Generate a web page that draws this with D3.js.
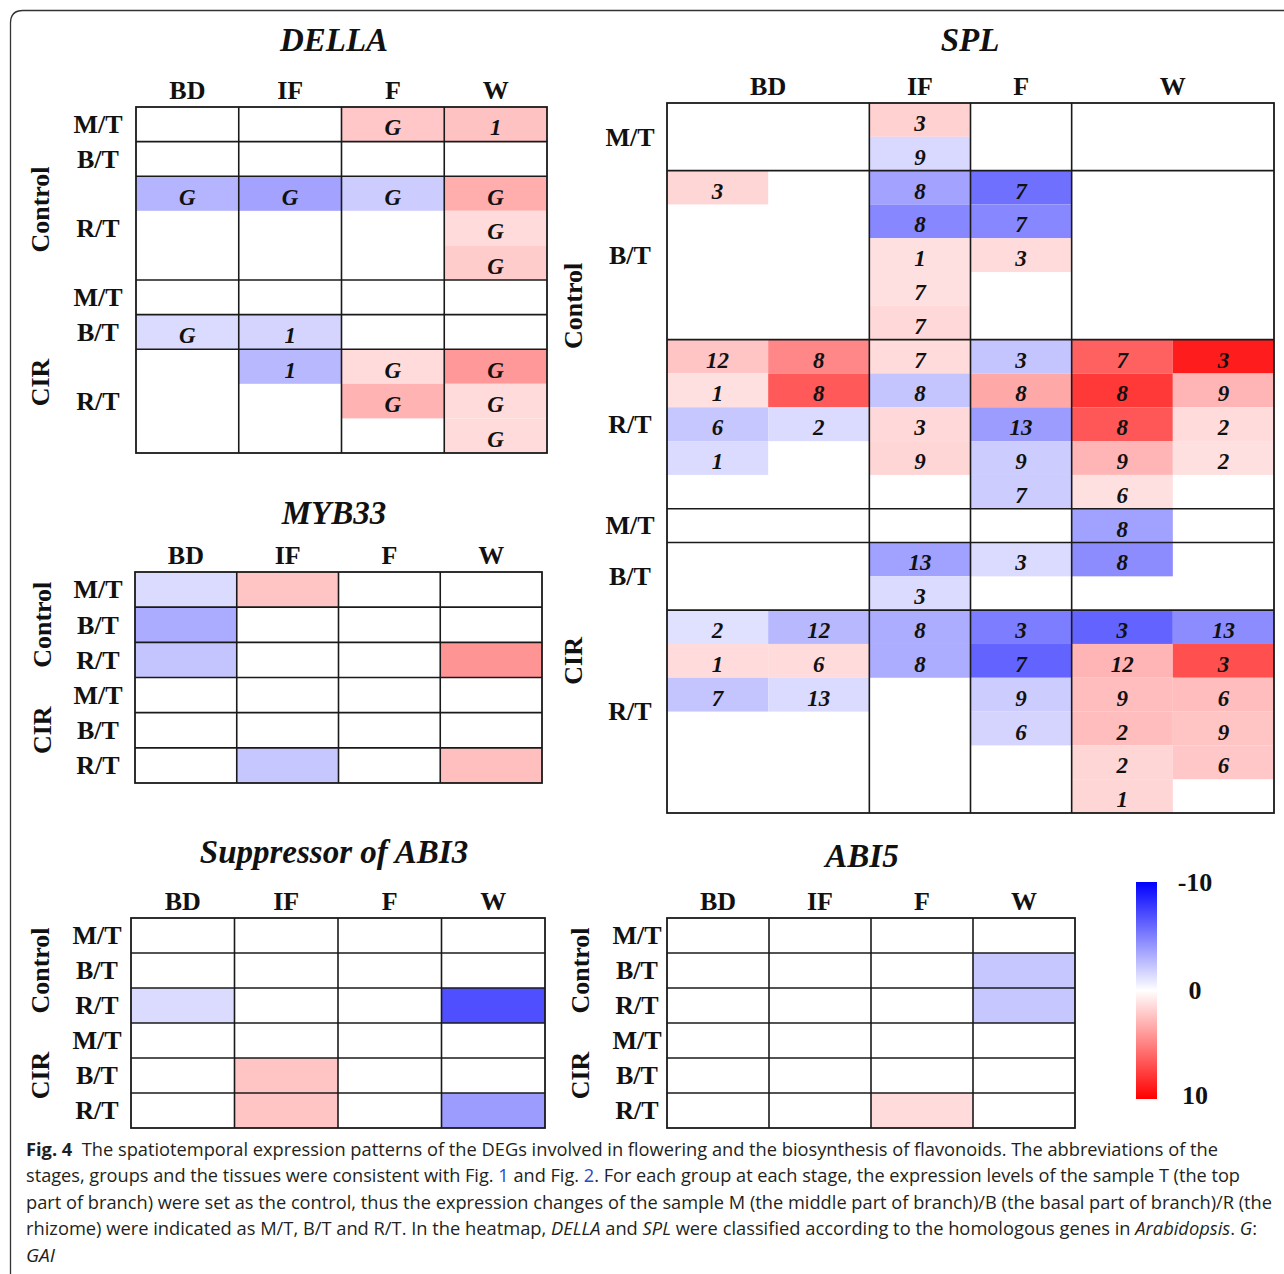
<!DOCTYPE html>
<html>
<head>
<meta charset="utf-8">
<script src="https://cdn.jsdelivr.net/npm/d3@7"></script>
<style>
  html, body { margin: 0; padding: 0; background: #fff; }
  svg { display: block; }
  .ttl  { font-family: "Liberation Serif", "Times New Roman", serif; font-weight: bold; font-style: italic; font-size: 33px; fill: #111; }
  .hdr  { font-family: "Liberation Serif", "Times New Roman", serif; font-weight: bold; font-size: 26px; fill: #111; }
  .cell { font-family: "Liberation Serif", "Times New Roman", serif; font-weight: bold; font-style: italic; font-size: 23px; fill: #111; }
  .cap  { font-family: "Open Sans", "Noto Sans", sans-serif; font-size: 18px; fill: #231f20; }
</style>
</head>
<body>
<svg id="fig" width="1284" height="1274"></svg>
<script>
// ---- data ----
const stages = ["BD", "IF", "F", "W"];
const tissues = ["M/T", "B/T", "R/T"];
const groups = ["Control", "CIR"];
const legendTicks = [-10, 0, 10];

// slots per row group (Control M/T, B/T, R/T, CIR M/T, B/T, R/T) and sub-columns per stage
const dellaRows = [1, 1, 3, 1, 1, 3];
const dellaCols = [1, 1, 1, 1];
// [group, tissue, stage, sub, slot, value, label]
const dellaCells = [
  ["Control", "M/T", "F", 0, 0, 2.2, "G"],
  ["Control", "M/T", "W", 0, 0, 2.4, "1"],
  ["Control", "R/T", "BD", 0, 0, -2.9, "G"],
  ["Control", "R/T", "IF", 0, 0, -3.6, "G"],
  ["Control", "R/T", "F", 0, 0, -2.0, "G"],
  ["Control", "R/T", "W", 0, 0, 3.2, "G"],
  ["Control", "R/T", "W", 0, 1, 1.4, "G"],
  ["Control", "R/T", "W", 0, 2, 2.0, "G"],
  ["CIR", "B/T", "BD", 0, 0, -1.4, "G"],
  ["CIR", "B/T", "IF", 0, 0, -1.7, "1"],
  ["CIR", "R/T", "IF", 0, 0, -2.8, "1"],
  ["CIR", "R/T", "F", 0, 0, 1.4, "G"],
  ["CIR", "R/T", "W", 0, 0, 4.0, "G"],
  ["CIR", "R/T", "F", 0, 1, 3.0, "G"],
  ["CIR", "R/T", "W", 0, 1, 1.4, "G"],
  ["CIR", "R/T", "W", 0, 2, 1.4, "G"]
];

const splRows = [2, 5, 5, 1, 2, 6];
const splCols = [2, 1, 1, 2];
const splCells = [
  ["Control", "M/T", "IF", 0, 0, 1.8, "3"],
  ["Control", "M/T", "IF", 0, 1, -1.5, "9"],
  ["Control", "B/T", "BD", 0, 0, 1.6, "3"],
  ["Control", "B/T", "IF", 0, 0, -3.6, "8"],
  ["Control", "B/T", "F", 0, 0, -5.6, "7"],
  ["Control", "B/T", "IF", 0, 1, -4.7, "8"],
  ["Control", "B/T", "F", 0, 1, -4.7, "7"],
  ["Control", "B/T", "IF", 0, 2, 1.2, "1"],
  ["Control", "B/T", "F", 0, 2, 1.4, "3"],
  ["Control", "B/T", "IF", 0, 3, 1.2, "7"],
  ["Control", "B/T", "IF", 0, 4, 1.5, "7"],
  ["Control", "R/T", "BD", 0, 0, 2.3, "12"],
  ["Control", "R/T", "BD", 1, 0, 4.7, "8"],
  ["Control", "R/T", "IF", 0, 0, 1.4, "7"],
  ["Control", "R/T", "F", 0, 0, -2.3, "3"],
  ["Control", "R/T", "W", 0, 0, 6.2, "7"],
  ["Control", "R/T", "W", 1, 0, 8.9, "3"],
  ["Control", "R/T", "BD", 0, 1, 1.2, "1"],
  ["Control", "R/T", "BD", 1, 1, 6.5, "8"],
  ["Control", "R/T", "IF", 0, 1, -2.3, "8"],
  ["Control", "R/T", "F", 0, 1, 3.4, "8"],
  ["Control", "R/T", "W", 0, 1, 7.8, "8"],
  ["Control", "R/T", "W", 1, 1, 2.9, "9"],
  ["Control", "R/T", "BD", 0, 2, -2.2, "6"],
  ["Control", "R/T", "BD", 1, 2, -1.4, "2"],
  ["Control", "R/T", "IF", 0, 2, 1.5, "3"],
  ["Control", "R/T", "F", 0, 2, -3.9, "13"],
  ["Control", "R/T", "W", 0, 2, 6.6, "8"],
  ["Control", "R/T", "W", 1, 2, 1.4, "2"],
  ["Control", "R/T", "BD", 0, 3, -1.4, "1"],
  ["Control", "R/T", "IF", 0, 3, 1.6, "9"],
  ["Control", "R/T", "F", 0, 3, -2.0, "9"],
  ["Control", "R/T", "W", 0, 3, 2.9, "9"],
  ["Control", "R/T", "W", 1, 3, 1.2, "2"],
  ["Control", "R/T", "F", 0, 4, -2.0, "7"],
  ["Control", "R/T", "W", 0, 4, 1.2, "6"],
  ["CIR", "M/T", "W", 0, 0, -3.7, "8"],
  ["CIR", "B/T", "IF", 0, 0, -3.7, "13"],
  ["CIR", "B/T", "F", 0, 0, -1.4, "3"],
  ["CIR", "B/T", "W", 0, 0, -4.5, "8"],
  ["CIR", "B/T", "IF", 0, 1, -1.4, "3"],
  ["CIR", "R/T", "BD", 0, 0, -1.2, "2"],
  ["CIR", "R/T", "BD", 1, 0, -2.8, "12"],
  ["CIR", "R/T", "IF", 0, 0, -3.2, "8"],
  ["CIR", "R/T", "F", 0, 0, -5.1, "3"],
  ["CIR", "R/T", "W", 0, 0, -6.1, "3"],
  ["CIR", "R/T", "W", 1, 0, -4.5, "13"],
  ["CIR", "R/T", "BD", 0, 1, 1.4, "1"],
  ["CIR", "R/T", "BD", 1, 1, 1.4, "6"],
  ["CIR", "R/T", "IF", 0, 1, -3.2, "8"],
  ["CIR", "R/T", "F", 0, 1, -6.1, "7"],
  ["CIR", "R/T", "W", 0, 1, 2.9, "12"],
  ["CIR", "R/T", "W", 1, 1, 6.9, "3"],
  ["CIR", "R/T", "BD", 0, 2, -2.3, "7"],
  ["CIR", "R/T", "BD", 1, 2, -1.4, "13"],
  ["CIR", "R/T", "F", 0, 2, -2.0, "9"],
  ["CIR", "R/T", "W", 0, 2, 2.6, "9"],
  ["CIR", "R/T", "W", 1, 2, 2.6, "6"],
  ["CIR", "R/T", "F", 0, 3, -1.7, "6"],
  ["CIR", "R/T", "W", 0, 3, 2.6, "2"],
  ["CIR", "R/T", "W", 1, 3, 2.3, "9"],
  ["CIR", "R/T", "W", 0, 4, 1.6, "2"],
  ["CIR", "R/T", "W", 1, 4, 2.2, "6"],
  ["CIR", "R/T", "W", 0, 5, 1.6, "1"]
];

const simpleRows = [1, 1, 1, 1, 1, 1];
const simpleCols = [1, 1, 1, 1];
const myb33Cells = [
  ["Control", "M/T", "BD", 0, 0, -1.4, ""],
  ["Control", "M/T", "IF", 0, 0, 2.3, ""],
  ["Control", "B/T", "BD", 0, 0, -3.3, ""],
  ["Control", "R/T", "BD", 0, 0, -2.3, ""],
  ["Control", "R/T", "W", 0, 0, 4.2, ""],
  ["CIR", "R/T", "IF", 0, 0, -2.2, ""],
  ["CIR", "R/T", "W", 0, 0, 2.5, ""]
];
const sabi3Cells = [
  ["Control", "R/T", "BD", 0, 0, -1.4, ""],
  ["Control", "R/T", "W", 0, 0, -6.9, ""],
  ["CIR", "B/T", "IF", 0, 0, 2.3, ""],
  ["CIR", "R/T", "IF", 0, 0, 2.3, ""],
  ["CIR", "R/T", "W", 0, 0, -3.9, ""]
];
const abi5Cells = [
  ["Control", "B/T", "W", 0, 0, -2.2, ""],
  ["Control", "R/T", "W", 0, 0, -2.2, ""],
  ["CIR", "R/T", "F", 0, 0, 1.4, ""]
];

// ---- drawing ----
const svg = d3.select("#fig");
const color = d3.scaleLinear().domain([-10, 0, 10]).range(["#0000ff", "#ffffff", "#ff0000"]);

// outer frame (rounded corner, cut off at right/bottom)
svg.append("path")
   .attr("d", "M10.5,1290 V23 Q10.5,10.5 23,10.5 H1295")
   .attr("fill", "none").attr("stroke", "#333").attr("stroke-width", 1.3);

function drawPanel(p) {
  const g = svg.append("g");
  const colKeys = [], rowKeys = [];
  stages.forEach((s, i) => d3.range(p.cols[i]).forEach(k => colKeys.push(s + "|" + k)));
  let gi = 0;
  groups.forEach(gr => tissues.forEach(t => {
    d3.range(p.rows[gi++]).forEach(k => rowKeys.push(gr + "|" + t + "|" + k));
  }));
  const x = d3.scaleBand().domain(colKeys).range([p.x0, p.x1]);
  const y = d3.scaleBand().domain(rowKeys).range([p.y0, p.y1]);

  // cells
  g.selectAll("rect.c").data(p.cells).join("rect").attr("class", "c")
    .attr("x", d => x(d[2] + "|" + d[3]))
    .attr("y", d => y(d[0] + "|" + d[1] + "|" + d[4]))
    .attr("width", x.bandwidth()).attr("height", y.bandwidth())
    .attr("fill", d => color(d[5]));
  g.selectAll("text.cell").data(p.cells.filter(d => d[6])).join("text").attr("class", "cell")
    .attr("x", d => x(d[2] + "|" + d[3]) + x.bandwidth() / 2)
    .attr("y", d => y(d[0] + "|" + d[1] + "|" + d[4]) + y.bandwidth() / 2)
    .attr("dy", "0.48em").attr("text-anchor", "middle").text(d => d[6]);

  // grid lines
  const ln = { stroke: "#1a1a1a", "stroke-width": 1.6 };
  stages.forEach((s, i) => {
    if (i === 0) return;
    const xx = x(s + "|0");
    const l = g.append("line").attr("x1", xx).attr("x2", xx).attr("y1", p.y0).attr("y2", p.y1);
    Object.entries(ln).forEach(([k, v]) => l.attr(k, v));
  });
  groups.forEach(gr => tissues.forEach(t => {
    const yy = y(gr + "|" + t + "|0");
    if (yy === p.y0) return;
    const l = g.append("line").attr("x1", p.x0).attr("x2", p.x1).attr("y1", yy).attr("y2", yy);
    Object.entries(ln).forEach(([k, v]) => l.attr(k, v));
  }));
  g.append("rect").attr("x", p.x0).attr("y", p.y0)
    .attr("width", p.x1 - p.x0).attr("height", p.y1 - p.y0)
    .attr("fill", "none").attr("stroke", "#1a1a1a").attr("stroke-width", 1.8);

  // column headers
  stages.forEach((s, i) => {
    const a = x(s + "|0"), b = x(s + "|" + (p.cols[i] - 1)) + x.bandwidth();
    g.append("text").attr("class", "hdr").attr("x", (a + b) / 2).attr("y", p.y0 - 8)
      .attr("text-anchor", "middle").text(s);
  });

  // row labels and group labels
  groups.forEach(gr => {
    tissues.forEach(t => {
      const keys = rowKeys.filter(k => k.startsWith(gr + "|" + t + "|"));
      const a = y(keys[0]), b = y(keys[keys.length - 1]) + y.bandwidth();
      g.append("text").attr("class", "hdr").attr("x", p.rowX).attr("y", (a + b) / 2)
        .attr("dy", "0.34em").attr("text-anchor", "middle").text(t);
    });
    const keys = rowKeys.filter(k => k.startsWith(gr + "|"));
    const a = y(keys[0]), b = y(keys[keys.length - 1]) + y.bandwidth();
    const cy = (a + b) / 2 + (p.grpOff || 0);
    g.append("text").attr("class", "hdr")
      .attr("transform", `translate(${p.grpX},${cy}) rotate(-90)`)
      .attr("dy", "0.34em").attr("text-anchor", "middle").text(gr);
  });

  // title
  const t = g.append("text").attr("class", "ttl").attr("x", p.titleX).attr("y", p.titleY)
    .attr("text-anchor", "middle");
  p.title.forEach(([txt, it]) => t.append("tspan").attr("font-style", it ? "italic" : "normal").text(txt));
}

drawPanel({ title: [["DELLA", 1]], cells: dellaCells, rows: dellaRows, cols: dellaCols,
  x0: 136, x1: 547, y0: 107, y1: 453, titleX: 334, titleY: 51, rowX: 98, grpX: 40, grpOff: 16 });
drawPanel({ title: [["SPL", 1]], cells: splCells, rows: splRows, cols: splCols,
  x0: 667, x1: 1274, y0: 103, y1: 813, titleX: 970, titleY: 51, rowX: 630, grpX: 573 });
drawPanel({ title: [["MYB33", 1]], cells: myb33Cells, rows: simpleRows, cols: simpleCols,
  x0: 135, x1: 542, y0: 572, y1: 783, titleX: 334, titleY: 524, rowX: 98, grpX: 42 });
drawPanel({ title: [["Suppressor of ABI3", 1]], cells: sabi3Cells, rows: simpleRows, cols: simpleCols,
  x0: 131, x1: 545, y0: 918, y1: 1128, titleX: 334, titleY: 863, rowX: 97, grpX: 40 });
drawPanel({ title: [["ABI5", 1]], cells: abi5Cells, rows: simpleRows, cols: simpleCols,
  x0: 667, x1: 1075, y0: 918, y1: 1128, titleX: 862, titleY: 867, rowX: 637, grpX: 580 });

// colour legend
const ly = d3.scaleLinear().domain([-10, 10]).range([882, 1099]);
const grad = svg.append("defs").append("linearGradient").attr("id", "lg")
  .attr("x1", 0).attr("x2", 0).attr("y1", 0).attr("y2", 1);
d3.range(-10, 10.1, 2.5).forEach(v => grad.append("stop")
  .attr("offset", (v + 10) / 20).attr("stop-color", color(v)));
svg.append("rect").attr("x", 1136).attr("y", ly(-10)).attr("width", 21)
  .attr("height", ly(10) - ly(-10)).attr("fill", "url(#lg)");
svg.selectAll("text.lt").data(legendTicks).join("text").attr("class", "hdr")
  .attr("x", 1195).attr("y", d => ly(d) - (d > 0 ? 4 : 0)).attr("dy", "0.34em")
  .attr("text-anchor", "middle").text(d => d);

// caption
const capLines = [
  { w: 1192, parts: [["Fig. 4", "b"], ["  The spatiotemporal expression patterns of the DEGs involved in flowering and the biosynthesis of flavonoids. The abbreviations of the", ""]] },
  { w: 1214, parts: [["stages, groups and the tissues were consistent with Fig. ", ""], ["1", "l"], [" and Fig. ", ""], ["2", "l"], [". For each group at each stage, the expression levels of the sample T (the top", ""]] },
  { w: 1246, parts: [["part of branch) were set as the control, thus the expression changes of the sample M (the middle part of branch)/B (the basal part of branch)/R (the", ""]] },
  { w: 1231, parts: [["rhizome) were indicated as M/T, B/T and R/T. In the heatmap, ", ""], ["DELLA", "i"], [" and ", ""], ["SPL", "i"], [" were classified according to the homologous genes in ", ""], ["Arabidopsis", "i"], [". ", ""], ["G", "i"], [":", ""]] },
  { w: 29, parts: [["GAI", "i"]] }
];
capLines.forEach((c, i) => {
  const t = svg.append("text").attr("class", "cap").attr("x", 26).attr("y", 1156 + i * 26.4)
    .attr("textLength", c.w).attr("lengthAdjust", "spacingAndGlyphs").attr("xml:space", "preserve");
  c.parts.forEach(([txt, st]) => {
    const s = t.append("tspan").text(txt);
    if (st === "b") s.attr("font-weight", "bold");
    if (st === "i") s.attr("font-style", "italic");
    if (st === "l") s.attr("fill", "#2b46c8");
  });
});
</script>
</body>
</html>
